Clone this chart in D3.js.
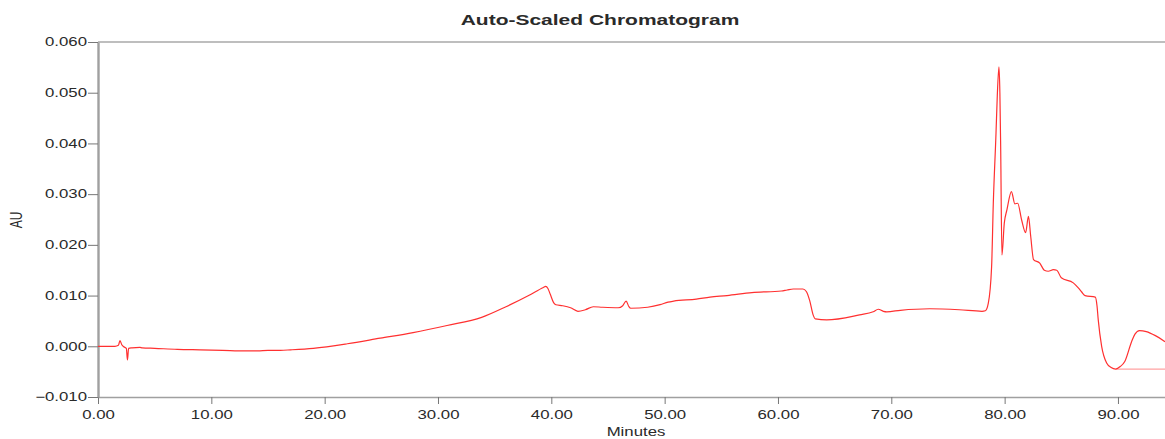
<!DOCTYPE html>
<html>
<head>
<meta charset="utf-8">
<script src="https://cdn.jsdelivr.net/npm/d3@7"></script>
<style>
  html, body { margin: 0; padding: 0; background: #fff; }
  svg { display: block; }
  text { font-family: "Liberation Sans", Arial, sans-serif; fill: #2a2a2a; }
</style>
</head>
<body>
<svg id="chart" width="1165" height="439"></svg>
<script>
// Retention time (minutes) and detector response (AU)
const minutes = [
  0.0, 1.5, 1.8, 1.94, 2.1, 2.35, 2.5, 2.6, 2.7, 3.0, 3.7, 3.9, 5.0, 7.0, 9.0,
  11.0, 13.0, 14.1, 15.0, 16.1, 17.0, 19.0, 22.0, 24.9, 27.8, 30.8, 33.85, 36.0,
  38.0, 39.3, 39.5, 39.7, 39.9, 40.2, 40.4, 41.0, 41.7, 42.35, 43.0, 43.7, 44.5,
  45.9, 46.3, 46.6, 46.85, 47.0, 48.5, 49.6, 50.3, 50.8, 52.8, 54.0, 55.5, 57.7,
  60.3, 60.8, 61.35, 62.2, 62.5, 62.8, 63.1, 63.3, 64.3, 67.2, 68.4, 68.85, 69.3,
  69.6, 70.8, 73.4, 76.0, 78.0, 78.3, 78.56, 78.85, 79.0, 79.24, 79.35, 79.5,
  79.58, 79.65, 79.76, 79.97, 80.2, 80.6, 80.9, 81.15, 81.5, 81.85, 82.1, 82.3,
  82.55, 83.1, 83.5, 83.85, 84.3, 84.6, 85.0, 86.06, 86.5, 86.8, 87.1, 88.0,
  88.15, 88.26, 88.56, 89.0, 89.4, 89.8, 90.2, 90.6, 91.2, 91.5, 91.9, 92.5,
  93.3, 94.15
];
const absorbance = [
  0.0000, 0.0000, 0.0002, 0.0011, 0.0003, -0.0002, -0.0004, -0.0027, -0.0004,
  -0.0003, -0.0002, -0.0003, -0.0004, -0.0006, -0.0007, -0.0008, -0.0009,
  -0.0009, -0.0008, -0.0008, -0.0007, -0.0004, 0.0005, 0.0016, 0.0027, 0.0041,
  0.0057, 0.0078, 0.0100, 0.0116, 0.0118, 0.0114, 0.0103, 0.0086, 0.0082,
  0.0080, 0.0076, 0.0069, 0.0072, 0.0078, 0.0077, 0.0076, 0.0080, 0.0089,
  0.0078, 0.0075, 0.0077, 0.0082, 0.0087, 0.0089, 0.0093, 0.0097, 0.0100,
  0.0106, 0.0109, 0.0111, 0.0113, 0.0113, 0.0108, 0.0090, 0.0062, 0.0054,
  0.0052, 0.0062, 0.0068, 0.0073, 0.0069, 0.0068, 0.0071, 0.0074, 0.0072,
  0.0069, 0.0070, 0.0085, 0.0157, 0.0282, 0.0421, 0.0493, 0.0551, 0.0500,
  0.0394, 0.0180, 0.0243, 0.0269, 0.0305, 0.0281, 0.0282, 0.0249, 0.0224,
  0.0256, 0.0217, 0.0171, 0.0164, 0.0150, 0.0148, 0.0151, 0.0150, 0.0135,
  0.0125, 0.0115, 0.0107, 0.0100, 0.0097, 0.0080, 0.0052, 0.0000, -0.0033,
  -0.0042, -0.0045, -0.0040, -0.0030, 0.0009, 0.0024, 0.0031, 0.0029, 0.0021,
  0.0009
];
// Baseline segment drawn under the last negative dip
const baselineMinutes = [89.8, 94.15];
const baselineAU = [-0.0045, -0.0045];

const xMajorTicks = [0, 10, 20, 30, 40, 50, 60, 70, 80, 90];
const yMajorTicks = [-0.01, 0.0, 0.01, 0.02, 0.03, 0.04, 0.05, 0.06];

const title = "Auto-Scaled Chromatogram";
const xTitle = "Minutes";
const yTitle = "AU";

const svg = d3.select("#chart");
const W = 1165, H = 439;
const m = { left: 98, top: 42, right: 0, bottom: 42 };
const SX = 1.4; // horizontal stretch applied to all text

const x = d3.scaleLinear().domain([0, 94.15]).range([m.left, W - m.right]);
const y = d3.scaleLinear().domain([-0.01, 0.06]).range([H - m.bottom, m.top]);

const xMinor = d3.range(0, 94.1, 2).filter(v => v % 10 !== 0);
const yMinor = d3.range(-0.01, 0.0601, 0.002).filter(v => Math.abs(Math.round(v * 1000) % 10) !== 0);

// top frame line
svg.append("line")
  .attr("x1", m.left).attr("x2", W).attr("y1", m.top).attr("y2", m.top)
  .attr("stroke", "#a8a8a8").attr("stroke-width", 1.6);

// x axis
const gx = svg.append("g").attr("transform", `translate(0,${H - m.bottom})`);
gx.call(d3.axisBottom(x).tickValues(xMinor).tickSize(5).tickSizeOuter(0).tickFormat(""));
gx.call(d3.axisBottom(x).tickValues(xMajorTicks).tickSize(7).tickSizeOuter(0).tickFormat(d3.format(".2f")));
gx.selectAll(".domain").attr("stroke", "#a0a0a0").attr("stroke-width", 1.6);
gx.selectAll(".tick line").attr("stroke", "#777");
gx.selectAll(".tick text")
  .attr("y", 13).attr("dy", "0.71em")
  .attr("transform", `scale(${SX},1)`)
  .style("font-size", "12px").attr("fill", "#2a2a2a");

// y axis
const gy = svg.append("g").attr("transform", `translate(${m.left},0)`);
gy.call(d3.axisLeft(y).tickValues(yMinor).tickSize(5).tickSizeOuter(0).tickFormat(""));
gy.call(d3.axisLeft(y).tickValues(yMajorTicks).tickSize(10).tickSizeOuter(0).tickFormat(d3.format(".3f")));
gy.selectAll(".domain").attr("stroke", "#a0a0a0").attr("stroke-width", 2.4);
gy.selectAll(".tick line").attr("stroke", "#777");
gy.selectAll(".tick text")
  .attr("x", -11 / SX)
  .attr("transform", `scale(${SX},1)`)
  .style("font-size", "12px").attr("fill", "#2a2a2a");
gx.selectAll("text").attr("font-family", null);
gy.selectAll("text").attr("font-family", null);

// titles
svg.append("text")
  .attr("transform", `translate(600,25) scale(${SX},1)`)
  .attr("text-anchor", "middle")
  .style("font-size", "15px").style("font-weight", "bold")
  .attr("fill", "#111")
  .text(title);

svg.append("text")
  .attr("transform", `translate(636,436) scale(${SX},1)`)
  .attr("text-anchor", "middle")
  .style("font-size", "12px")
  .text(xTitle);

svg.append("text")
  .attr("transform", `translate(22,220) scale(${SX},1) rotate(-90)`)
  .attr("text-anchor", "middle")
  .style("font-size", "12px")
  .text(yTitle);

// trace
const pts = minutes.map((t, i) => [t, absorbance[i]]);
const line = d3.line().x(d => x(d[0])).y(d => y(d[1])).curve(d3.curveMonotoneX);

svg.append("path")
  .datum(baselineMinutes.map((t, i) => [t, baselineAU[i]]))
  .attr("d", d3.line().x(d => x(d[0])).y(d => y(d[1])))
  .attr("fill", "none").attr("stroke", "#ff8a8a").attr("stroke-width", 1);

svg.append("path")
  .datum(pts)
  .attr("d", line)
  .attr("fill", "none")
  .attr("stroke", "#ff3030")
  .attr("stroke-width", 1.2)
  .attr("stroke-linejoin", "round");
</script>
</body>
</html>
